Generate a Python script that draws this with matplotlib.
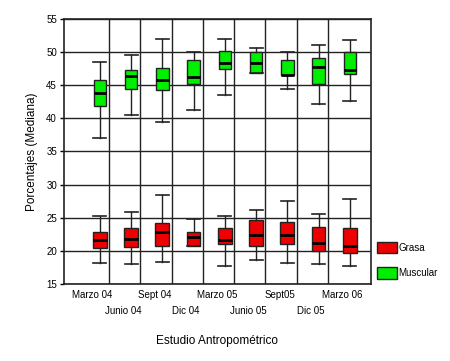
import numpy as np
import matplotlib
matplotlib.use('Agg')
import matplotlib.pyplot as plt
import matplotlib.transforms as mtransforms
from matplotlib.patches import Patch

plt.rcParams['font.family'] = ['Liberation Sans', 'DejaVu Sans']

# study dates (x axis)
fechas = ['Marzo 04', 'Junio 04', 'Sept 04', 'Dic 04', 'Marzo 05',
          'Junio 05', 'Sept05', 'Dic 05', 'Marzo 06']

# Grasa (red) box stats: whisker low, q1, median, q3, whisker high
grasa_lo = [18.2, 18.0, 18.3, 20.7, 17.8, 18.6, 18.2, 18.0, 17.8]
grasa_q1 = [20.4, 20.6, 20.8, 20.7, 21.0, 20.8, 21.0, 20.0, 19.7]
grasa_med = [21.6, 21.8, 22.8, 22.1, 21.7, 22.4, 22.4, 21.2, 20.8]
grasa_q3 = [22.8, 23.5, 24.2, 22.8, 23.4, 24.7, 24.3, 23.6, 23.4]
grasa_hi = [25.3, 25.8, 28.5, 24.8, 25.3, 26.2, 27.6, 25.5, 27.9]

# Muscular (green) box stats
musc_lo = [37.1, 40.5, 39.5, 41.3, 43.5, 46.9, 44.4, 42.1, 42.6]
musc_q1 = [41.9, 44.4, 44.2, 45.2, 47.4, 46.9, 46.5, 45.2, 46.7]
musc_med = [43.8, 46.4, 45.7, 46.2, 48.3, 48.3, 46.5, 47.7, 47.3]
musc_q3 = [45.7, 47.3, 47.6, 48.8, 50.2, 50.0, 48.8, 49.1, 50.0]
musc_hi = [48.5, 49.5, 51.9, 50.0, 52.0, 50.6, 50.0, 51.0, 51.8]

y_ticks = [15, 20, 25, 30, 35, 40, 45, 50, 55]


def make_stats(lo, q1, med, q3, hi):
    return [dict(whislo=a, q1=b, med=c, q3=d, whishi=e, fliers=[])
            for a, b, c, d, e in zip(lo, q1, med, q3, hi)]


fig = plt.figure(figsize=(4.5, 3.61), dpi=100)
ax = fig.add_axes([0.142, 0.213, 0.682, 0.735])

pos = np.arange(1, len(fechas) + 1)

for stats, color, w in [(make_stats(grasa_lo, grasa_q1, grasa_med, grasa_q3, grasa_hi), '#ee0000', 0.44),
                        (make_stats(musc_lo, musc_q1, musc_med, musc_q3, musc_hi), '#00ee00', 0.40)]:
    ax.bxp(stats, positions=pos, widths=w, capwidths=0.42, patch_artist=True,
           showfliers=False, manage_ticks=False,
           boxprops=dict(facecolor=color, edgecolor='#222222', linewidth=1.0),
           medianprops=dict(color='black', linewidth=2.0),
           whiskerprops=dict(color='#222222', linewidth=1.0),
           capprops=dict(color='#222222', linewidth=1.2),
           zorder=3)

ax.set_xlim(-0.15, 9.67)
ax.set_ylim(15, 55)
ax.set_yticks(y_ticks)
ax.tick_params(axis='y', labelsize=7, length=3, width=1, colors='black', pad=2)

# staggered date labels: first row on the main axis, second row on a secondary axis
offset = mtransforms.ScaledTranslation(-7.5 / 100, 0, fig.dpi_scale_trans)
ax.set_xticks(pos[::2])
ax.set_xticklabels(fechas[::2])
ax.tick_params(axis='x', labelsize=7, length=0, pad=4)
for lab in ax.get_xticklabels():
    lab.set_transform(lab.get_transform() + offset)

sec = ax.secondary_xaxis('bottom')
sec.set_xticks(pos[1::2])
sec.set_xticklabels(fechas[1::2])
sec.tick_params(axis='x', labelsize=7, length=0, pad=16)
sec.spines['bottom'].set_visible(False)
for lab in sec.get_xticklabels():
    lab.set_transform(lab.get_transform() + offset)

# gridlines between dates
ax.set_xticks(pos[:-1] + 0.3, minor=True)
ax.tick_params(axis='x', which='minor', length=0)
ax.grid(which='minor', axis='x', color='#222222', linewidth=1.0, zorder=1)
ax.grid(which='major', axis='y', color='#222222', linewidth=1.0, zorder=1)
ax.grid(which='major', axis='x', visible=False)
ax.set_axisbelow(True)
for s in ax.spines.values():
    s.set_color('#222222')
    s.set_linewidth(1.2)

ax.set_ylabel('Porcentajes (Mediana)', fontsize=8.5, labelpad=6)
fig.text(0.482, 0.055, 'Estudio Antropométrico', fontsize=8.5, ha='center', va='center')

handles = [Patch(facecolor='#ee0000', edgecolor='#222222', label='Grasa'),
           Patch(facecolor='#00ee00', edgecolor='#222222', label='Muscular')]
fig.legend(handles=handles, loc='upper left', bbox_to_anchor=(0.838, 0.33),
           frameon=False, fontsize=7, handlelength=2.0, handleheight=1.45,
           handletextpad=0.2, labelspacing=1.4, borderpad=0, borderaxespad=0)

fig.savefig('out.png', dpi=100)
